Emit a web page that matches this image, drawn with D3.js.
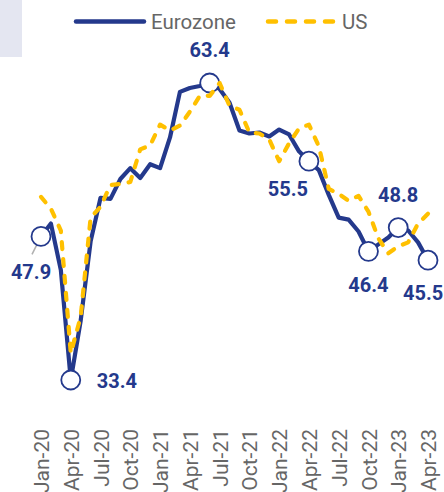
<!DOCTYPE html>
<html>
<head>
<meta charset="utf-8">
<script src="https://cdn.jsdelivr.net/npm/d3@7"></script>
<style>
  html, body { margin: 0; padding: 0; background: #fff; }
  svg { display: block; font-family: Roboto, "Noto Sans", sans-serif; }
</style>
</head>
<body>
<svg id="chart" width="444" height="492"></svg>
<script>
// ---- data ----
const months = ["Jan-20","Feb-20","Mar-20","Apr-20","May-20","Jun-20","Jul-20","Aug-20","Sep-20","Oct-20","Nov-20","Dec-20",
  "Jan-21","Feb-21","Mar-21","Apr-21","May-21","Jun-21","Jul-21","Aug-21","Sep-21","Oct-21","Nov-21","Dec-21",
  "Jan-22","Feb-22","Mar-22","Apr-22","May-22","Jun-22","Jul-22","Aug-22","Sep-22","Oct-22","Nov-22","Dec-22",
  "Jan-23","Feb-23","Mar-23","Apr-23"];
const eurozone = [47.9,49.2,44.5,33.4,39.4,47.4,51.8,51.7,53.7,54.8,53.8,55.2,
  54.8,57.9,62.5,62.9,63.1,63.4,62.8,61.4,58.6,58.3,58.4,58.0,
  58.7,58.2,56.5,55.5,54.6,52.1,49.8,49.6,48.4,46.4,47.1,47.8,
  48.8,48.5,47.3,45.5];
const us = [51.9,50.7,48.5,36.1,39.8,49.8,50.9,53.1,53.2,53.4,56.7,57.1,
  59.2,58.6,59.1,60.5,62.1,62.1,63.4,61.1,60.7,58.4,58.3,57.7,
  55.5,57.3,58.8,59.2,57.0,52.7,52.2,51.5,52.0,50.4,47.7,46.2,
  46.9,47.3,49.2,50.2];
const tickLabels = ["Jan-20","Apr-20","Jul-20","Oct-20","Jan-21","Apr-21","Jul-21","Oct-21","Jan-22","Apr-22","Jul-22","Oct-22","Jan-23","Apr-23"];
const markedMonths = ["Jan-20","Apr-20","Jun-21","Apr-22","Oct-22","Jan-23","Apr-23"];
const seriesNames = ["Eurozone","US"];

// ---- style ----
const NAVY = "#24398c";
const GOLD = "#ffc000";
const GREY = "#666666";

const svg = d3.select("#chart");

const x = d3.scalePoint().domain(months).range([41, 428]);
const y = d3.scaleLinear().domain([33.4, 63.4]).range([380, 83]);

// grey corner box
svg.append("rect").attr("x", 0).attr("y", 0).attr("width", 22).attr("height", 57).attr("fill", "#e4e6f1");

// legend
const lg = svg.append("g");
lg.append("line").attr("x1", 76).attr("x2", 144).attr("y1", 21.5).attr("y2", 21.5)
  .attr("stroke", NAVY).attr("stroke-width", 4.5).attr("stroke-linecap", "round");
lg.append("text").attr("x", 151).attr("y", 28.5).attr("font-size", 20.5).attr("fill", GREY).text(seriesNames[0]);
lg.append("line").attr("x1", 268).attr("x2", 334).attr("y1", 21.5).attr("y2", 21.5)
  .attr("stroke", GOLD).attr("stroke-width", 4.5).attr("stroke-linecap", "round")
  .attr("stroke-dasharray", "8,11");
lg.append("text").attr("x", 342).attr("y", 28.5).attr("font-size", 20.5).attr("fill", GREY).text(seriesNames[1]);

// x axis labels
const xAxis = d3.axisBottom(x).tickValues(tickLabels).tickSize(0).tickPadding(0);
const ax = svg.append("g").attr("transform", "translate(0,429)").call(xAxis);
ax.select(".domain").remove();
ax.selectAll("text")
  .attr("transform", "rotate(-90)")
  .attr("x", 0).attr("y", 0).attr("dy", "0.36em")
  .attr("text-anchor", "end")
  .attr("font-family", "Roboto, sans-serif")
  .attr("font-size", 21)
  .attr("fill", GREY);

// lines
const line = d3.line().x((d, i) => x(months[i])).y(d => y(d));

svg.append("path").datum(eurozone).attr("d", line)
  .attr("fill", "none").attr("stroke", NAVY).attr("stroke-width", 4.2)
  .attr("stroke-linejoin", "round").attr("stroke-linecap", "round");

// leader line for Jan-20
svg.append("line")
  .attr("x1", x("Jan-20") - 1).attr("y1", y(47.9) + 2)
  .attr("x2", x("Jan-20") - 9).attr("y2", y(47.9) + 18)
  .attr("stroke", "#b0b0b0").attr("stroke-width", 1.5);

// markers
svg.selectAll("circle.mk").data(markedMonths).join("circle")
  .attr("class", "mk")
  .attr("cx", m => x(m)).attr("cy", m => y(eurozone[months.indexOf(m)]))
  .attr("r", 9.5).attr("fill", "#fff").attr("stroke", NAVY).attr("stroke-width", 1.8);

svg.append("path").datum(us).attr("d", line)
  .attr("fill", "none").attr("stroke", GOLD).attr("stroke-width", 4.2)
  .attr("stroke-linejoin", "round").attr("stroke-linecap", "round")
  .attr("stroke-dasharray", "7,10");

// data labels (offsets relative to marker)
const labelOffsets = {
  "Jan-20": {dx: -10, dy: 43, anchor: "middle"},
  "Apr-20": {dx: 26, dy: 8, anchor: "start"},
  "Jun-21": {dx: 0, dy: -26, anchor: "middle"},
  "Apr-22": {dx: -21, dy: 35, anchor: "middle"},
  "Oct-22": {dx: 0, dy: 41, anchor: "middle"},
  "Jan-23": {dx: 0, dy: -26, anchor: "middle"},
  "Apr-23": {dx: -25, dy: 40, anchor: "start"}
};
svg.selectAll("text.dl").data(markedMonths).join("text")
  .attr("class", "dl")
  .attr("x", m => x(m) + labelOffsets[m].dx)
  .attr("y", m => y(eurozone[months.indexOf(m)]) + labelOffsets[m].dy)
  .attr("text-anchor", m => labelOffsets[m].anchor)
  .attr("font-size", 20).attr("font-weight", 700).attr("fill", NAVY)
  .text(m => eurozone[months.indexOf(m)].toFixed(1));
</script>
</body>
</html>
